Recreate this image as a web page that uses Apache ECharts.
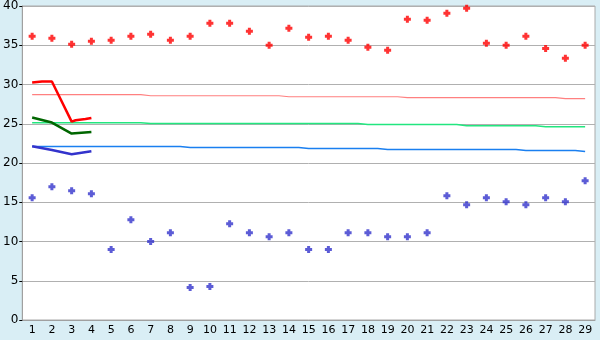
<!DOCTYPE html>
<html>
<head>
<meta charset="utf-8">
<script src="https://cdn.jsdelivr.net/npm/echarts@6/dist/echarts.min.js"></script>
<style>html,body{margin:0;padding:0;background:#d9eef5;}#c{width:600px;height:340px;}</style>
</head>
<body>
<div id="c"></div>
<script>
var days = ['1','2','3','4','5','6','7','8','9','10','11','12','13','14','15','16','17','18','19','20','21','22','23','24','25','26','27','28','29'];
var yTicks = [0,5,10,15,20,25,30,35,40];
// daily maxima (red points)
var maxPts = [36.15,35.9,35.13,35.5,35.64,36.15,36.4,35.64,36.15,37.8,37.8,36.78,35.0,37.16,36.02,36.15,35.64,34.75,34.37,38.3,38.18,39.07,39.7,35.26,35.0,36.15,34.6,33.35,35.0];
// daily minima (blue points)
var minPts = [15.58,16.97,16.46,16.08,8.97,12.78,9.99,11.13,4.15,4.28,12.27,11.13,10.62,11.13,8.97,8.97,11.13,11.13,10.62,10.62,11.13,15.83,14.69,15.58,15.07,14.69,15.58,15.07,17.74];
// normals (step lines)
var normMax = [28.7,28.7,28.7,28.7,28.7,28.7,28.57,28.57,28.57,28.57,28.57,28.57,28.57,28.44,28.44,28.44,28.44,28.44,28.44,28.32,28.32,28.32,28.32,28.32,28.32,28.32,28.32,28.19,28.19];
var normMean = [25.14,25.14,25.14,25.14,25.14,25.14,25.02,25.02,25.02,25.02,25.02,25.02,25.02,25.02,25.02,25.02,25.02,24.89,24.89,24.89,24.89,24.89,24.76,24.76,24.76,24.76,24.63,24.63,24.63];
var normMin = [22.1,22.1,22.1,22.1,22.1,22.1,22.1,22.1,21.97,21.97,21.97,21.97,21.97,21.97,21.84,21.84,21.84,21.84,21.71,21.71,21.71,21.71,21.71,21.71,21.71,21.59,21.59,21.59,21.46];
// recent short series (day position, value)
var recentMaxX = [1,1.5,2,3,3.2,3.7,4];
var recentMaxY = [30.26,30.38,30.38,25.27,25.45,25.6,25.74];
var recentMeanX = [1,2,3,3.5,4];
var recentMeanY = [25.8,25.15,23.75,23.85,23.95];
var recentMinX = [1,2,3,4];
var recentMinY = [22.13,21.65,21.12,21.5];

function pairs(xs, ys){ return ys.map(function(v,i){ return [xs[i], v]; }); }
function byDay(ys){ return ys.map(function(v,i){ return [i+1, v]; }); }

var marker = 'path://M2,0 L5,0 L5,2 L7,2 L7,5 L5,5 L5,7 L2,7 L2,5 L0,5 L0,2 L2,2 Z';
var font = 'DejaVu Sans';

var chart = echarts.init(document.getElementById('c'), null, {renderer:'canvas'});
chart.setOption({
  backgroundColor: '#d9eef5',
  animation: false,
  grid: {left:20, right:5, top:5, bottom:20, show:true, backgroundColor:'#ffffff', borderColor:'#aaaaaa', borderWidth:1},
  xAxis: [
    {type:'category', data:days, boundaryGap:true,
     axisLine:{lineStyle:{color:'#a0a0a0'}},
     axisTick:{alignWithLabel:true, length:4, lineStyle:{color:'#000'}},
     axisLabel:{color:'#000', fontFamily:font, fontSize:11, margin:5, interval:0},
     splitLine:{show:false}},
    {type:'value', min:0.5, max:29.5, show:false, splitLine:{show:false}}
  ],
  yAxis: {type:'value', min:yTicks[0], max:yTicks[yTicks.length-1], interval:5,
    axisLine:{show:true, lineStyle:{color:'#a0a0a0'}},
    axisTick:{show:true, length:3, lineStyle:{color:'#000'}},
    axisLabel:{color:'#000', fontFamily:font, fontSize:12, margin:4},
    splitLine:{lineStyle:{color:'#b0b0b0'}}},
  series: [
    {type:'line', xAxisIndex:1, step:'middle', data:byDay(normMax), symbol:'none', lineStyle:{color:'#ff8080', width:1.2}},
    {type:'line', xAxisIndex:1, step:'middle', data:byDay(normMean), symbol:'none', lineStyle:{color:'#22e67f', width:1.5}},
    {type:'line', xAxisIndex:1, step:'middle', data:byDay(normMin), symbol:'none', lineStyle:{color:'#1a7ff0', width:1.5}},
    {type:'scatter', xAxisIndex:1, data:byDay(maxPts), symbol:marker, symbolSize:7, itemStyle:{color:'#ff0000'}},
    {type:'scatter', xAxisIndex:1, data:byDay(minPts), symbol:marker, symbolSize:7, itemStyle:{color:'#3333cc'}},
    {type:'line', xAxisIndex:1, data:pairs(recentMaxX, recentMaxY), symbol:'none', lineStyle:{color:'#ff0000', width:2.5}},
    {type:'line', xAxisIndex:1, data:pairs(recentMeanX, recentMeanY), symbol:'none', lineStyle:{color:'#006600', width:2.5}},
    {type:'line', xAxisIndex:1, data:pairs(recentMinX, recentMinY), symbol:'none', lineStyle:{color:'#3333cc', width:2.5}}
  ]
});
</script>
</body>
</html>
